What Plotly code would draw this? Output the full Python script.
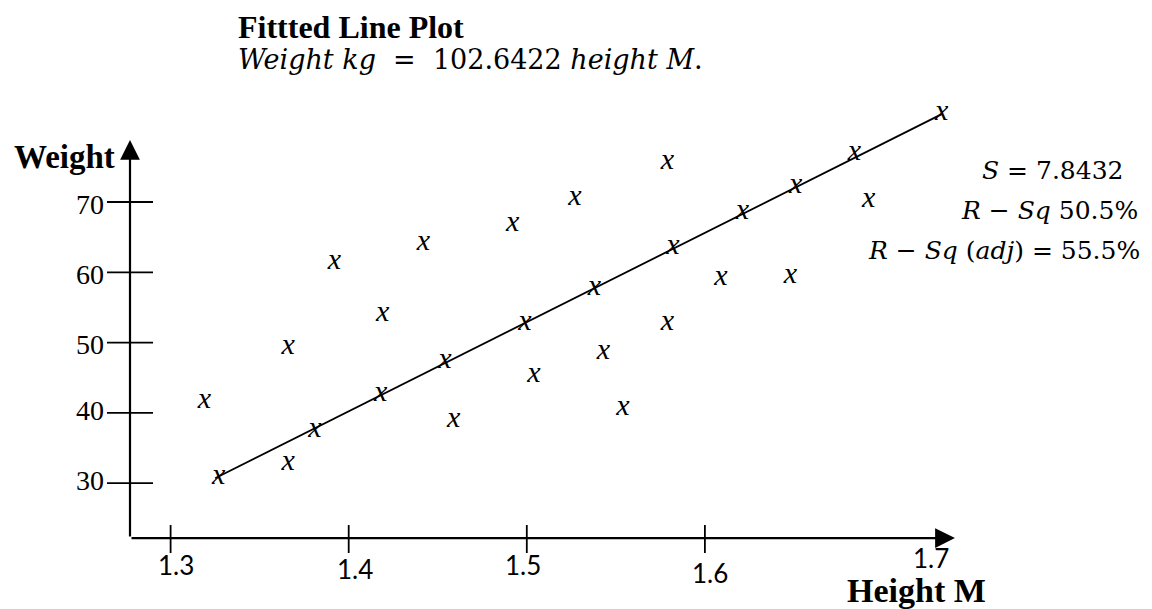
import plotly.graph_objects as go

# ---------------- data ----------------
height_m = [1.319, 1.327, 1.366, 1.366, 1.381, 1.392, 1.419, 1.418, 1.442, 1.454,
            1.459, 1.492, 1.499, 1.504, 1.527, 1.538, 1.543, 1.554, 1.579, 1.582,
            1.579, 1.609, 1.621, 1.648, 1.651, 1.684, 1.692, 1.733]
weight_kg = [41.8, 30.9, 49.4, 32.9, 37.6, 61.5, 54.2, 42.7, 64.3, 47.5,
             39.0, 67.0, 52.9, 45.4, 70.6, 57.9, 48.7, 40.8, 75.7, 63.6,
             52.9, 59.3, 68.6, 59.6, 72.4, 77.0, 70.3, 82.8]
fit_x = [1.325, 1.733]
fit_y = [30.7, 82.5]

x_ticks = [1.3, 1.4, 1.5, 1.6]
x_tick_labels = ["1.3", "1.4", "1.5", "1.6", "1.7"]
x_label_vals = [1.3, 1.4, 1.5, 1.6, 1.7]
y_ticks = [70, 60, 50, 40, 30]
y_tick_labels = ["70", "60", "50", "40", "30"]

title_text = "Fittted Line Plot"
equation_text = "<i>Weight kg</i>\u00a0\u00a0=\u00a0\u00a0102.6422 <i>height M</i>."
stats_lines = ["<i>S</i> = 7.8432",
               "<i>R</i> \u2212 <i>Sq</i> 50.5%",
               "<i>R</i> \u2212 <i>Sq</i> (<i>adj</i>) = 55.5%"]
y_title = "Weight"
x_title = "Height M"

# ---------------- layout constants ----------------
OFF = 8                      # page body margin around the figure
W, H = 1152 - OFF, 609 - OFF
X_RANGE = [1.20870, 1.85104]
Y_RANGE = [12.105, 97.596]
AXIS_X = 1.2772      # where the vertical axis sits (in height units)
AXIS_Y = 22.20       # where the horizontal axis sits (in weight units)
X_TIP = 1.7404
Y_TIP = 78.82

x_lab_dx = [5, 6, -4, 5, 48]
x_lab_dy = [-27, -31, -27, -35, -20]
y_lab_dy = [-2, -2, -2, 2, 3]

SERIF = "Liberation Serif"
MATH = "DejaVu Serif"

fig = go.Figure()

fig.add_trace(go.Scatter(
    x=fit_x, y=fit_y, mode="lines",
    line=dict(color="black", width=1.8), hoverinfo="skip"))

fig.add_trace(go.Scatter(
    x=height_m, y=weight_kg, mode="text",
    text=["x"] * len(height_m), textposition="middle center",
    textfont=dict(family=SERIF, size=30, color="black", style="italic"),
    hoverinfo="skip"))

shapes = []
for v in x_ticks:
    shapes.append(dict(type="line", xref="x", yref="y", ysizemode="pixel",
                       yanchor=AXIS_Y, x0=v, x1=v, y0=-15, y1=13,
                       line=dict(color="black", width=1.8)))
for v in y_ticks:
    shapes.append(dict(type="line", xref="x", yref="y", xsizemode="pixel",
                       xanchor=AXIS_X, x0=-23, x1=23, y0=v, y1=v,
                       line=dict(color="black", width=1.8)))

ann = []
# axes with arrow heads
ann.append(dict(x=X_TIP, y=AXIS_Y, ax=AXIS_X, ay=AXIS_Y, xref="x", yref="y",
                axref="x", ayref="y", text="", showarrow=True, arrowhead=2,
                arrowsize=1.8, arrowwidth=2.2, arrowcolor="black"))
ann.append(dict(x=AXIS_X, y=Y_TIP, ax=AXIS_X, ay=AXIS_Y, xref="x", yref="y",
                axref="x", ayref="y", text="", showarrow=True, arrowhead=2,
                arrowsize=1.8, arrowwidth=2.2, arrowcolor="black"))

for v, t, dx, dy in zip(x_label_vals, x_tick_labels, x_lab_dx, x_lab_dy):
    ann.append(dict(x=v, y=AXIS_Y, xref="x", yref="y", text=t, showarrow=False,
                    xanchor="center", yanchor="middle", xshift=dx, yshift=dy,
                    font=dict(family="Lato", size=26, color="black")))
for v, t, dy in zip(y_ticks, y_tick_labels, y_lab_dy):
    ann.append(dict(x=AXIS_X, y=v, xref="x", yref="y", text=t, showarrow=False,
                    xanchor="right", yanchor="middle", xshift=-24, yshift=dy,
                    font=dict(family=SERIF, size=28, color="black")))

def px(xp, yp):
    return (xp - OFF) / W, 1 - (yp - OFF) / H

tx, ty = px(236, 27)
ann.append(dict(x=tx, y=ty, xref="paper", yref="paper", text="<b>" + title_text + "</b>",
                showarrow=False, xanchor="left", yanchor="middle",
                font=dict(family=SERIF, size=32, color="black")))
ex, ey = px(236, 59)
ann.append(dict(x=ex, y=ey, xref="paper", yref="paper", text=equation_text,
                showarrow=False, xanchor="left", yanchor="middle",
                font=dict(family=MATH, size=27, color="black")))

for (rx, ry), line in zip([(1125, 170), (1140, 211), (1142, 251)], stats_lines):
    sx, sy = px(rx, ry)
    ann.append(dict(x=sx, y=sy, xref="paper", yref="paper", text=line,
                    showarrow=False, xanchor="right", yanchor="middle",
                    font=dict(family=MATH, size=25, color="black")))

wx, wy = px(12, 157)
ann.append(dict(x=wx, y=wy, xref="paper", yref="paper", text="<b>" + y_title + "</b>",
                showarrow=False, xanchor="left", yanchor="middle",
                font=dict(family=SERIF, size=33, color="black")))
hx, hy = px(845, 590)
ann.append(dict(x=hx, y=hy, xref="paper", yref="paper", text="<b>" + x_title + "</b>",
                showarrow=False, xanchor="left", yanchor="middle",
                font=dict(family=SERIF, size=34, color="black")))

fig.update_layout(
    width=W, height=H, margin=dict(l=0, r=0, t=0, b=0),
    paper_bgcolor="white", plot_bgcolor="white", showlegend=False,
    xaxis=dict(range=X_RANGE, visible=False, fixedrange=True),
    yaxis=dict(range=Y_RANGE, visible=False, fixedrange=True),
    shapes=shapes, annotations=ann)

fig.write_html("out.html")
